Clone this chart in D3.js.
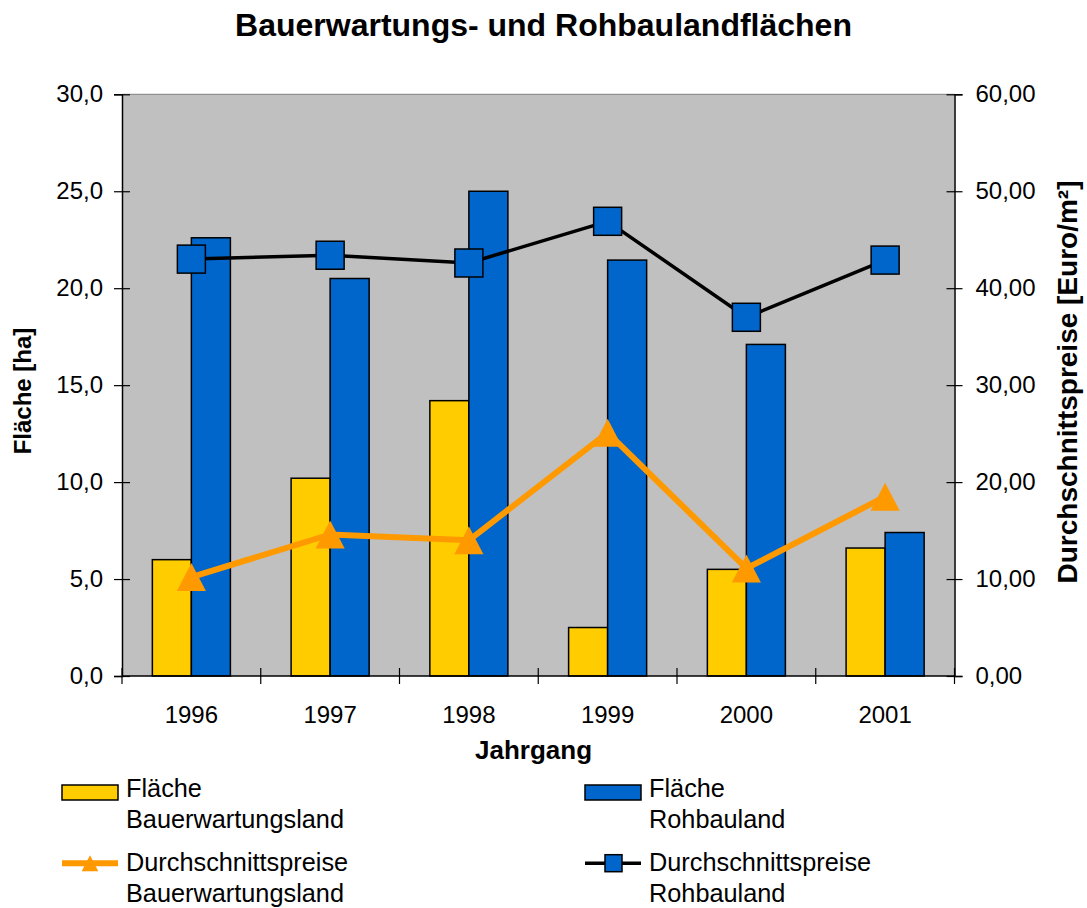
<!DOCTYPE html>
<html><head><meta charset="utf-8">
<script src="https://cdn.jsdelivr.net/npm/d3@7/dist/d3.min.js"></script>
<style>body{margin:0;background:#fff}svg{display:block;font-family:"Liberation Sans",Arial,sans-serif}</style>
</head><body><svg id="c" width="1087" height="908"></svg>
<script>
const years = ["1996","1997","1998","1999","2000","2001"];
const flaecheBauerwartung = [6.0, 10.2, 14.2, 2.5, 5.5, 6.6];
const flaecheRohbau = [22.6, 20.5, 25.0, 21.45, 17.1, 7.4];
const preisBauerwartung = [10.2, 14.6, 14.0, 25.1, 11.1, 18.5];
const preisRohbau = [43.0, 43.4, 42.6, 46.9, 37.0, 42.9];
const leftTicks = [0,5,10,15,20,25,30];
const rightTicks = [0,10,20,30,40,50,60];
const legendLabels = [["Fläche","Bauerwartungsland"],["Fläche","Rohbauland"],["Durchschnittspreise","Bauerwartungsland"],["Durchschnittspreise","Rohbauland"]];

const svg = d3.select("#c");
const L = 122, R = 954.5, T = 94.3, B = 676;
const x = d3.scaleBand().domain(years).range([L, R]).padding(0);
const sub = d3.scaleBand().domain(["bw","rb"]).range([0, x.bandwidth()]).paddingInner(0).paddingOuter(0.778);
const yL = d3.scaleLinear().domain([0,30]).range([B, T]);
const yR = d3.scaleLinear().domain([0,60]).range([B, T]);
const fmtL = v => d3.format(".1f")(v).replace(".", ",");
const fmtR = v => d3.format(".2f")(v).replace(".", ",");

// plot background
svg.append("rect").attr("x", L).attr("y", T).attr("width", R-L).attr("height", B-T).attr("fill", "#C0C0C0");
svg.append("line").attr("x1", L).attr("x2", R).attr("y1", T).attr("y2", T).attr("stroke", "#808080").attr("stroke-width", 1);

// bars
const colors = {bw:"#FFCC00", rb:"#0066CC"};
const barData = [];
years.forEach((yr,i) => {
  barData.push({yr, k:"bw", v:flaecheBauerwartung[i]});
  barData.push({yr, k:"rb", v:flaecheRohbau[i]});
});
svg.append("g").selectAll("rect").data(barData).join("rect")
  .attr("x", d => x(d.yr) + sub(d.k))
  .attr("y", d => yL(d.v))
  .attr("width", sub.bandwidth())
  .attr("height", d => B - yL(d.v))
  .attr("fill", d => colors[d.k])
  .attr("stroke", "#000").attr("stroke-width", 1.5);

// axes
const gL = svg.append("g").attr("transform", `translate(${L},0)`)
  .call(d3.axisLeft(yL).tickValues(leftTicks).tickFormat(fmtL).tickSize(8).tickPadding(11));
const gR = svg.append("g").attr("transform", `translate(${R},0)`)
  .call(d3.axisRight(yR).tickValues(rightTicks).tickFormat(fmtR).tickSize(8).tickPadding(13));
[gL, gR].forEach(g => {
  g.select(".domain").attr("stroke", "#000").attr("stroke-width", 1.5);
  g.selectAll(".tick line").attr("stroke", "#000").attr("stroke-width", 1.2);
  g.selectAll(".tick text").attr("font-size", 24).attr("fill", "#000").attr("font-family", "Liberation Sans, Arial, sans-serif");
});
gL.selectAll(".tick line").attr("x2", -8).attr("x1", 8);
gR.selectAll(".tick line").attr("x1", -8).attr("x2", 8);

// x axis
const gX = svg.append("g").attr("transform", `translate(0,${B})`);
gX.append("line").attr("x1", L).attr("x2", R).attr("stroke", "#000").attr("stroke-width", 1.5);
const bounds = years.map(y => x(y)).concat([R]);
gX.selectAll("line.t").data(bounds).join("line").attr("class","t")
  .attr("x1", d => d).attr("x2", d => d).attr("y1", -8).attr("y2", 8)
  .attr("stroke", "#000").attr("stroke-width", 1.2);
gX.selectAll("text").data(years).join("text")
  .attr("x", d => x(d) + x.bandwidth()/2).attr("y", 47)
  .attr("text-anchor", "middle").attr("font-size", 24).text(d => d);

// lines
const cx = (d,i) => x(years[i]) + x.bandwidth()/2;
svg.append("path").datum(preisRohbau)
  .attr("d", d3.line().x(cx).y(d => yR(d)))
  .attr("fill", "none").attr("stroke", "#000").attr("stroke-width", 3.5);
svg.append("path").datum(preisBauerwartung)
  .attr("d", d3.line().x(cx).y(d => yR(d)))
  .attr("fill", "none").attr("stroke", "#FF9900").attr("stroke-width", 6);

// markers
svg.append("g").selectAll("rect").data(preisRohbau).join("rect")
  .attr("x", (d,i) => cx(d,i) - 14).attr("y", d => yR(d) - 14)
  .attr("width", 28).attr("height", 28)
  .attr("fill", "#0066CC").attr("stroke", "#000").attr("stroke-width", 1.5);
const tri = (s) => `M0,${-s*0.5}L${s*0.52},${s*0.5}L${-s*0.52},${s*0.5}Z`;
svg.append("g").selectAll("path").data(preisBauerwartung).join("path")
  .attr("transform", (d,i) => `translate(${cx(d,i)},${yR(d)})`)
  .attr("d", tri(28)).attr("fill", "#FF9900");

// titles
svg.append("text").attr("x", 543.5).attr("y", 36).attr("text-anchor", "middle")
  .attr("font-size", 32).attr("font-weight", "bold").text("Bauerwartungs- und Rohbaulandflächen");
svg.append("text").attr("x", 533.5).attr("y", 759).attr("text-anchor", "middle")
  .attr("font-size", 26).attr("font-weight", "bold").text("Jahrgang");
svg.append("text").attr("transform", `translate(31,391) rotate(-90)`).attr("text-anchor", "middle")
  .attr("font-size", 24).attr("font-weight", "bold").text("Fläche [ha]");
svg.append("text").attr("transform", `translate(1077,382) rotate(-90)`).attr("text-anchor", "middle")
  .attr("font-size", 28).attr("font-weight", "bold").text("Durchschnittspreise [Euro/m²]");

// legend
const lg = svg.append("g");
const cols = [62, 585], rows = [797, 870.7];
legendLabels.forEach((lab, i) => {
  const cxl = cols[i % 2], by = rows[Math.floor(i / 2)];
  const g = lg.append("g");
  if (i === 0 || i === 1) {
    g.append("rect").attr("x", cxl).attr("y", by - 12).attr("width", 56).attr("height", 15)
      .attr("fill", i === 0 ? "#FFCC00" : "#0066CC").attr("stroke", "#000").attr("stroke-width", 1.5);
  } else if (i === 2) {
    g.append("line").attr("x1", cxl).attr("x2", cxl + 56).attr("y1", by - 7.5).attr("y2", by - 7.5)
      .attr("stroke", "#FF9900").attr("stroke-width", 6);
    g.append("path").attr("transform", `translate(${cxl + 28},${by - 7.5})`).attr("d", tri(16)).attr("fill", "#FF9900");
  } else {
    g.append("line").attr("x1", cxl).attr("x2", cxl + 56).attr("y1", by - 7.5).attr("y2", by - 7.5)
      .attr("stroke", "#000").attr("stroke-width", 3.5);
    g.append("rect").attr("x", cxl + 20).attr("y", by - 16).attr("width", 17).attr("height", 17)
      .attr("fill", "#0066CC").attr("stroke", "#000").attr("stroke-width", 1.5);
  }
  g.append("text").attr("x", cxl + 64).attr("y", by).attr("font-size", 25.3).text(lab[0]);
  g.append("text").attr("x", cxl + 64).attr("y", by + 31).attr("font-size", 25.3).text(lab[1]);
});
</script></body></html>
